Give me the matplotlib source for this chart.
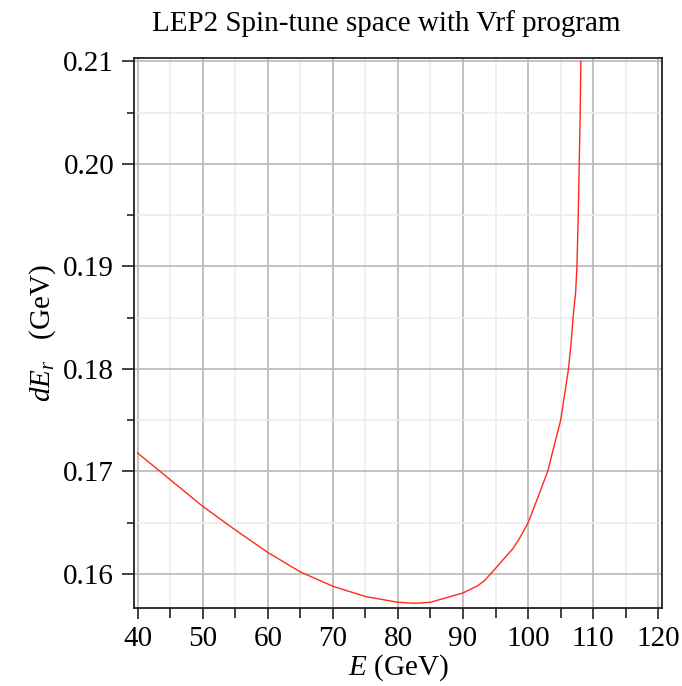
import numpy as np
import matplotlib
matplotlib.use("Agg")
from matplotlib import pyplot as plt
from matplotlib.ticker import MultipleLocator

# values
energy = [40, 45, 50, 55, 60, 65, 70, 75, 80, 82.5, 85, 90, 92.2, 93.3, 95,
          96.8, 97.7, 98.7, 100, 101.4, 103.0, 104.0, 105.0, 105.6, 106.2,
          106.6, 106.9, 107.3, 107.5, 107.7, 107.85, 108.0, 108.1]
dEr = [0.1718, 0.1692, 0.1666, 0.1643, 0.1621, 0.1602, 0.1588, 0.1578,
       0.15724, 0.15714, 0.15724, 0.15815, 0.15883, 0.15935, 0.16055,
       0.16185, 0.1625, 0.1635, 0.1650, 0.1673, 0.170, 0.1725, 0.175,
       0.1775, 0.180, 0.1825, 0.185, 0.1875, 0.190, 0.195, 0.200, 0.205, 0.210]

plt.rcParams['font.family'] = ['Liberation Serif', 'DejaVu Serif']
plt.rcParams['mathtext.fontset'] = 'custom'
plt.rcParams['mathtext.rm'] = 'Liberation Serif'
plt.rcParams['mathtext.it'] = 'Liberation Serif:italic'

fig = plt.figure(figsize=(6.82, 6.86), dpi=100)
ax = fig.add_axes([0.196, 0.1137, 0.775, 0.802])

ax.plot(energy, dEr, color='#ff2a1a', lw=1.0)

ax.set_xlim(39.4, 120.6)
ax.set_ylim(0.15668, 0.21034)
ax.xaxis.set_major_locator(MultipleLocator(10))
ax.xaxis.set_minor_locator(MultipleLocator(5))
ax.yaxis.set_major_locator(MultipleLocator(0.01))
ax.yaxis.set_minor_locator(MultipleLocator(0.005))
ax.yaxis.set_major_formatter(plt.FuncFormatter(lambda v, p: f"{v:.2f}"))

ax.grid(which='major', color='#bdbdbd', lw=1.3)
ax.grid(which='minor', color='#ececec', lw=1.1)
ax.set_axisbelow(True)

ax.tick_params(which='both', direction='out', labelsize=21, width=1.2, color='#222222')
ax.tick_params(axis='y', which='major', length=9, pad=5)
ax.tick_params(axis='y', which='minor', length=5)
ax.tick_params(axis='x', which='major', length=8, pad=5)
ax.tick_params(axis='x', which='minor', length=7)
for s in ax.spines.values():
    s.set_linewidth(1.3)
    s.set_color('#222222')

ax.set_xlabel('$E$ (GeV)', fontsize=21, labelpad=0)
ax.set_ylabel('$dE_r$   (GeV)', fontsize=21, labelpad=4)
fig.text(0.566, 0.966, 'LEP2 Spin-tune space with Vrf program', ha='center', va='center', fontsize=21)

fig.savefig('out.png', dpi=100)
